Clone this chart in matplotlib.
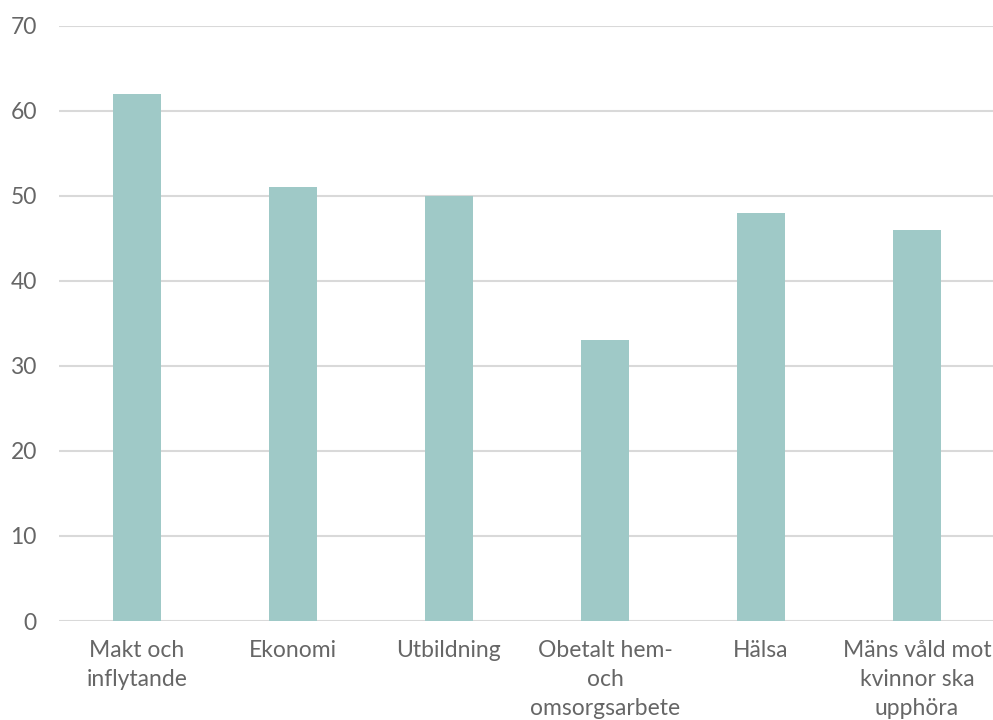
import matplotlib
matplotlib.use("Agg")
import matplotlib.pyplot as plt

categories = ["Makt och\ninflytande", "Ekonomi", "Utbildning",
              "Obetalt hem-\noch\nomsorgsarbete", "Hälsa",
              "Mäns våld mot\nkvinnor ska\nupphöra"]
values = [62, 51, 50, 33, 48, 46]
yticks = [0, 10, 20, 30, 40, 50, 60, 70]

fam = ["Lato", "DejaVu Sans"]
fig = plt.figure(figsize=(9.93, 7.2), dpi=100)
ax = fig.add_axes([0.0594, 0.1375, 0.9426, 0.8264])
x = list(range(len(categories)))
ax.bar(x, values, width=0.31, color="#9fc9c7", zorder=3)
ax.set_xlim(-0.5, len(categories) - 0.5)
ax.set_ylim(0, 70)
ax.set_yticks(yticks)
ax.set_yticklabels([str(t) for t in yticks], fontsize=16.5, color="#666666",
                   family=fam, fontweight="normal")
ax.set_xticks(x)
ax.set_xticklabels(categories, fontsize=16.5, color="#666666", family=fam,
                   fontweight="normal", linespacing=1.45)
ax.tick_params(axis="both", length=0)
ax.tick_params(axis="y", pad=16)
ax.tick_params(axis="x", pad=14)
ax.grid(axis="y", color="#d9d9d9", linewidth=1.5, zorder=0)
for s in ax.spines.values():
    s.set_visible(False)
fig.savefig("out.png", dpi=100)
